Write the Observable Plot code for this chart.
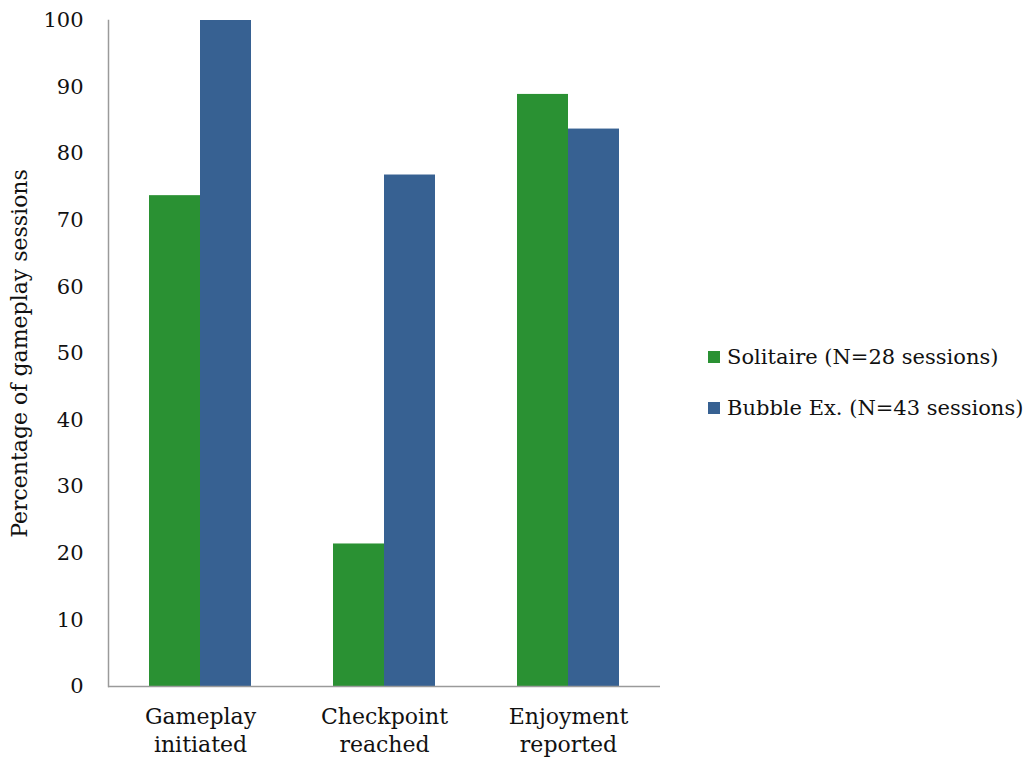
<!DOCTYPE html>
<html>
<head>
<meta charset="utf-8">
<script src="https://cdn.jsdelivr.net/npm/d3@7"></script>
<script src="https://cdn.jsdelivr.net/npm/@observablehq/plot@0.6"></script>
<style>
  html, body { margin: 0; padding: 0; background: #fff; }
  #wrap { position: relative; width: 1029px; height: 760px; font-family: "DejaVu Serif", serif; }
  #legend { position: absolute; left: 708px; top: 343px; font-size: 21px; color: #111; }
  .item { display: flex; align-items: center; height: 28px; margin-bottom: 23px; white-space: nowrap; }
  .sw { width: 12px; height: 12px; margin-right: 7px; }
</style>
</head>
<body>
<div id="wrap"></div>
<script>
const categories = ["Gameplay\ninitiated", "Checkpoint\nreached", "Enjoyment\nreported"];
const series = ["Solitaire (N=28 sessions)", "Bubble Ex. (N=43 sessions)"];
const solitaire = [73.7, 21.4, 88.9];
const bubble = [100, 76.8, 83.7];
const colors = ["#2a9133", "#376192"];
const yTicks = [0, 10, 20, 30, 40, 50, 60, 70, 80, 90, 100];

const data = [];
categories.forEach((c, i) => {
  data.push({category: c, series: series[0], value: solitaire[i]});
  data.push({category: c, series: series[1], value: bubble[i]});
});

const chart = Plot.plot({
  width: 1029,
  height: 760,
  marginLeft: 107,
  marginRight: 369,
  marginTop: 20,
  marginBottom: 74,
  style: {fontFamily: "DejaVu Serif, serif", fontSize: "21px", color: "#111", background: "#fff"},
  fx: {domain: categories, padding: 0, label: null, axis: null},
  x: {domain: series, paddingInner: 0, paddingOuter: 0.77, axis: null},
  y: {domain: [0, 100], label: null, axis: null},
  color: {domain: series, range: colors},
  marks: [
    Plot.barY(data, {fx: "category", x: "series", y: "value", fill: "series"}),
    Plot.ruleY([0], {stroke: "#9a9a9a", strokeWidth: 1.5}),
    Plot.frame({anchor: "left", facetAnchor: "left", stroke: "#9a9a9a", strokeWidth: 1.5}),
    Plot.axisY({ticks: yTicks, tickSize: 0, tickPadding: 25, fontSize: 21, label: null}),
    Plot.axisY({ticks: [], tickSize: 0, fontSize: 22, label: "Percentage of gameplay sessions", labelAnchor: "center", labelArrow: "none", labelOffset: 97}),
    Plot.axisFx({anchor: "bottom", tickSize: 0, tickPadding: 18, fontSize: 22, lineHeight: 1.27, label: null})
  ]
});

const wrap = document.getElementById("wrap");
wrap.appendChild(chart);

const legend = document.createElement("div");
legend.id = "legend";
series.forEach((s, i) => {
  const item = document.createElement("div");
  item.className = "item";
  const sw = document.createElement("div");
  sw.className = "sw";
  sw.style.background = colors[i];
  const t = document.createElement("span");
  t.textContent = s;
  item.appendChild(sw);
  item.appendChild(t);
  legend.appendChild(item);
});
wrap.appendChild(legend);
</script>
</body>
</html>
